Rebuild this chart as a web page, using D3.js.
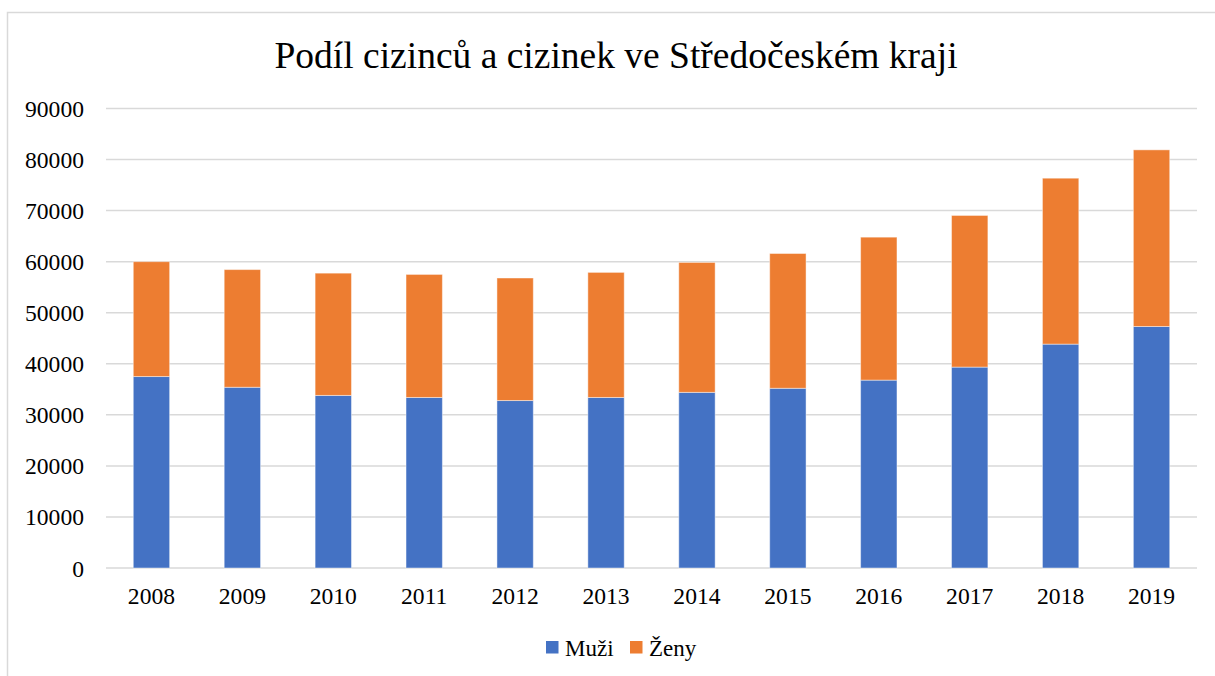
<!DOCTYPE html>
<html>
<head>
<meta charset="utf-8">
<script src="https://cdn.jsdelivr.net/npm/d3@7"></script>
<style>
  body { margin: 0; background: #fff; }
  svg text { font-family: "Liberation Serif", "Times New Roman", serif; fill: #000; }
</style>
</head>
<body>
<script>
// data
const years = ['2008','2009','2010','2011','2012','2013','2014','2015','2016','2017','2018','2019'];
const muzi  = [37500, 35400, 33800, 33400, 32800, 33400, 34400, 35200, 36800, 39350, 43850, 47300];
const zeny  = [22500, 23050, 23950, 24100, 24000, 24500, 25450, 26400, 28000, 29700, 32500, 34600];
const yTicks = [0, 10000, 20000, 30000, 40000, 50000, 60000, 70000, 80000, 90000];
const seriesNames = ['Muži', 'Ženy'];
const seriesColors = ['#4472C4', '#ED7D31'];

const W = 1215, H = 676;
const m = {top: 108.5, right: 18, bottom: 108, left: 106};

const svg = d3.select('body').append('svg')
    .attr('width', W)
    .attr('height', H);

// chart area border
svg.append('rect')
    .attr('x', 7.5).attr('y', 12.5)
    .attr('width', W + 20).attr('height', H + 20)
    .attr('fill', 'none')
    .attr('stroke', '#d9d9d9')
    .attr('stroke-width', 1.5);

svg.append('text')
    .attr('x', 616).attr('y', 68)
    .attr('text-anchor', 'middle')
    .style('font-size', '37.5px')
    .text('Podíl cizinců a cizinek ve Středočeském kraji');

const x = d3.scaleBand()
    .domain(years)
    .range([m.left, W - m.right])
    .paddingInner(0.6)
    .paddingOuter(0.3);

const y = d3.scaleLinear()
    .domain([0, 90000])
    .range([H - m.bottom, m.top]);

// gridlines + y labels
const yAxis = svg.append('g');
yAxis.selectAll('line')
    .data(yTicks)
    .enter().append('line')
    .attr('x1', m.left).attr('x2', W - m.right)
    .attr('y1', d => y(d)).attr('y2', d => y(d))
    .attr('stroke', '#d9d9d9')
    .attr('stroke-width', 1.5);
yAxis.selectAll('text')
    .data(yTicks)
    .enter().append('text')
    .attr('x', 84)
    .attr('y', d => y(d) + 8.5)
    .attr('text-anchor', 'end')
    .style('font-size', '23.6px')
    .text(d => d);

// stacked bars
const table = years.map((yr, i) => ({year: yr, 'Muži': muzi[i], 'Ženy': zeny[i]}));
const stack = d3.stack().keys(seriesNames)(table);

svg.append('g').selectAll('g')
    .data(stack)
    .enter().append('g')
    .attr('fill', (d, i) => seriesColors[i])
    .selectAll('rect')
    .data(d => d)
    .enter().append('rect')
    .attr('x', d => x(d.data.year))
    .attr('width', x.bandwidth())
    .attr('y', d => y(d[1]))
    .attr('height', d => y(d[0]) - y(d[1]))
    .attr('stroke', 'rgba(255,255,255,0.45)')
    .attr('stroke-width', 1);

// x labels
svg.append('g').selectAll('text')
    .data(years)
    .enter().append('text')
    .attr('x', d => x(d) + x.bandwidth() / 2)
    .attr('y', 604)
    .attr('text-anchor', 'middle')
    .style('font-size', '23.6px')
    .text(d => d);

// legend
const legendX = [546, 630];
const legend = svg.append('g').selectAll('g')
    .data(seriesNames)
    .enter().append('g')
    .attr('transform', (d, i) => 'translate(' + legendX[i] + ',641)');
legend.append('rect')
    .attr('width', 12.5).attr('height', 12.5)
    .attr('fill', (d, i) => seriesColors[i]);
legend.append('text')
    .attr('x', 19).attr('y', 14.5)
    .style('font-size', '23px')
    .text(d => d);
</script>
</body>
</html>
